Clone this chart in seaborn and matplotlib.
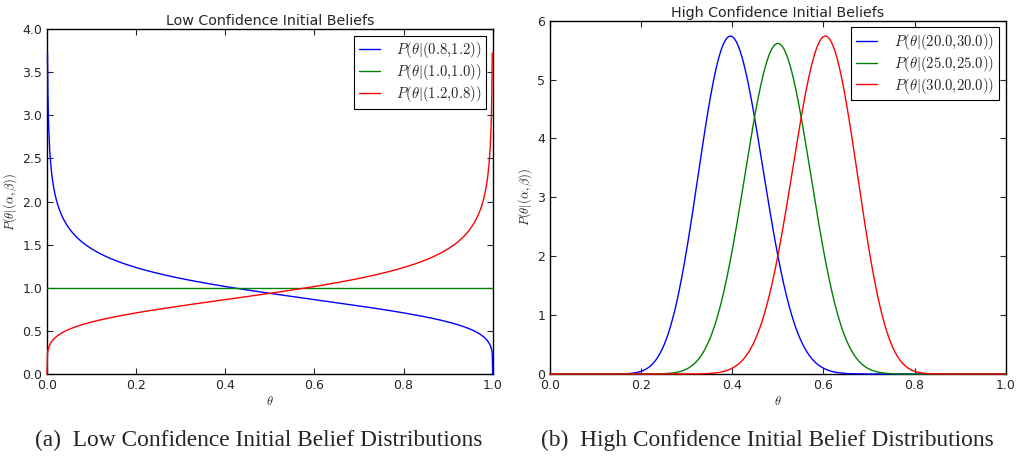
import math
import warnings
import numpy as np
import pandas as pd
import matplotlib
matplotlib.use("Agg")
import matplotlib.pyplot as plt
import seaborn as sns

warnings.filterwarnings("ignore")

# Beta distribution parameters (alpha, beta) shown in the legends
low_alpha = [0.8, 1.0, 1.2]
low_beta = [1.2, 1.0, 0.8]
high_alpha = [20.0, 25.0, 30.0]
high_beta = [30.0, 25.0, 20.0]
line_colors = ["blue", "green", "red"]
titles = ["Low Confidence Initial Beliefs", "High Confidence Initial Beliefs"]
captions = ["(a)  Low Confidence Initial Belief Distributions",
            "(b)  High Confidence Initial Belief Distributions"]
x_ticks = [0.0, 0.2, 0.4, 0.6, 0.8, 1.0]
low_yticks = [0.0, 0.5, 1.0, 1.5, 2.0, 2.5, 3.0, 3.5, 4.0]
high_yticks = [0, 1, 2, 3, 4, 5, 6]


def beta_pdf(x, a, b):
    logB = math.lgamma(a) + math.lgamma(b) - math.lgamma(a + b)
    with np.errstate(divide="ignore", invalid="ignore"):
        y = np.exp((a - 1) * np.log(x) + (b - 1) * np.log(1 - x) - logB)
    y = np.where(np.isfinite(y), y, np.nan)
    return y


theta = np.linspace(0, 1, 1000)

sns.set_style("white")
plt.rcParams.update({
    "font.family": ["DejaVu Sans"],
    "mathtext.fontset": "cm",
    "xtick.direction": "in",
    "ytick.direction": "in",
    "xtick.top": True,
    "ytick.right": True,
    "xtick.bottom": True,
    "ytick.left": True,
    "xtick.major.size": 4,
    "ytick.major.size": 4,
    "xtick.major.width": 0.8,
    "ytick.major.width": 0.8,
    "axes.edgecolor": "black",
    "axes.linewidth": 1.0,
    "xtick.labelsize": 9,
    "ytick.labelsize": 9,
})

fig = plt.figure(figsize=(10.18, 4.61), dpi=100)
ax1 = fig.add_axes([0.0462, 0.1887, 0.4378, 0.7483])
ax2 = fig.add_axes([0.5403, 0.1887, 0.4476, 0.7664])


def draw(ax, alphas, betas, fmt, htp):
    frames = []
    for a, b in zip(alphas, betas):
        lab = r"$P(\theta|(%s{,}%s))$" % (fmt(a), fmt(b))
        frames.append(pd.DataFrame({"theta": theta, "p": beta_pdf(theta, a, b), "dist": lab}))
    df = pd.concat(frames, ignore_index=True)
    sns.lineplot(data=df, x="theta", y="p", hue="dist", palette=line_colors,
                 ax=ax, linewidth=1.0, estimator=None, sort=False, zorder=3,
                 clip_on=False)
    leg = ax.legend(loc="upper right", fontsize=10.6, frameon=True, fancybox=False,
                    edgecolor="black", framealpha=1.0, borderpad=0.32,
                    handlelength=1.45, handletextpad=htp, labelspacing=0.12,
                    borderaxespad=0.45)
    leg.get_frame().set_linewidth(0.8)
    ax.set_xlim(0, 1)
    ax.set_xticks(x_ticks)
    ax.set_xticklabels(["%.1f" % t for t in x_ticks])
    ax.set_xlabel(r"$\theta$", fontsize=9, labelpad=2)
    ax.set_ylabel(r"$P(\theta|(\alpha,\beta))$", fontsize=9, labelpad=2)


fmt1 = lambda v: "%.1f" % v
draw(ax1, low_alpha, low_beta, fmt1, 1.05)
ax1.set_ylim(0, 4.0)
ax1.set_yticks(low_yticks)
ax1.set_yticklabels(["%.1f" % t for t in low_yticks])
ax1.set_title(titles[0], fontsize=10.3, pad=3)

draw(ax2, high_alpha, high_beta, fmt1, 1.15)
ax2.set_ylim(0, 6)
ax2.set_yticks(high_yticks)
ax2.set_yticklabels(["%d" % t for t in high_yticks])
ax2.set_title(titles[1], fontsize=10.3, pad=3)

for ax in (ax1, ax2):
    for s in ax.spines.values():
        s.set_visible(True)
        s.set_color("black")

fig.text(0.254, 0.045, captions[0], ha="center", va="center",
         fontsize=16.8, family="Liberation Serif")
fig.text(0.754, 0.045, captions[1], ha="center", va="center",
         fontsize=16.8, family="Liberation Serif")

fig.savefig("out.png", dpi=100)
